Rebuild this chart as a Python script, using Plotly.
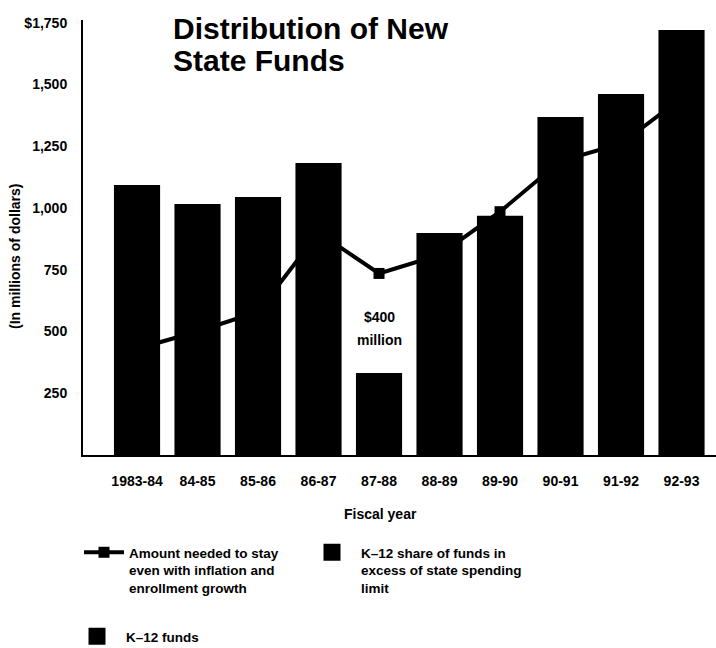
import plotly.graph_objects as go

# ---------------- data ----------------
years = ["1983-84", "84-85", "85-86", "86-87", "87-88",
         "88-89", "89-90", "90-91", "91-92", "92-93"]
k12_funds = [1083, 1006, 1034, 1172, None, 889, 958, 1358, 1451, 1710]
k12_excess_share = [None, None, None, None, 322, None, None, None, None, None]
amount_needed = [430, 500, 580, 900, 735, 810, 985, 1190, 1260, 1445]
y_tick_values = [250, 500, 750, 1000, 1250, 1500, 1750]
y_tick_labels = ["250", "500", "750", "1,000", "1,250", "1,500", "$1,750"]

# ---------------- layout helpers ----------------
FONT = "Liberation Sans, Arial, Helvetica, sans-serif"
W, H = 716, 648
L, R, T, B = 83, 0, 20, 193
PW = W - L - R
PH = H - T - B


def px_x(px):
    return (px - L) / PW


def px_y(py):
    return (H - B - py) / PH


pos = list(range(len(years)))
Y_RANGE = [0, 1761]
X_RANGE = [-0.893, 9.57]

fig = go.Figure()

# line drawn on base subplot (behind the bars)
fig.add_trace(go.Scatter(
    x=pos, y=amount_needed, mode="lines+markers",
    name="Amount needed to stay<br>even with inflation and<br>enrollment growth",
    line=dict(color="black", width=4),
    marker=dict(symbol="square", size=11, color="black"),
    xaxis="x", yaxis="y", legend="legend", hoverinfo="skip",
))

# bars on overlaying subplot so they sit above the line
fig.add_trace(go.Bar(
    x=pos, y=k12_excess_share,
    name="K–12 share of funds in<br>excess of state spending<br>limit",
    marker=dict(color="black", line=dict(color="black", width=5)),
    width=0.68, xaxis="x", yaxis="y2", legend="legend2", hoverinfo="skip",
))
fig.add_trace(go.Bar(
    x=pos, y=k12_funds, name="K–12 funds",
    marker=dict(color="black", line=dict(color="black", width=5)),
    width=0.68, xaxis="x", yaxis="y2", legend="legend3", hoverinfo="skip",
))

legend_font = dict(family=FONT, size=13.5, color="black", weight="bold")
common_legend = dict(xanchor="left", yanchor="top", valign="top",
                     bgcolor="rgba(0,0,0,0)", borderwidth=0,
                     font=legend_font, tracegroupgap=0)

annot_font = dict(family=FONT, color="black", weight="bold")

fig.update_layout(
    width=W, height=H, autosize=False,
    margin=dict(l=L, r=R, t=T, b=B, pad=0, autoexpand=False),
    paper_bgcolor="white", plot_bgcolor="white",
    font=dict(family=FONT, color="black", weight="bold"),
    barmode="overlay",
    showlegend=True,
    xaxis=dict(
        range=X_RANGE, tickmode="array", tickvals=pos, ticktext=years,
        showline=True, linecolor="black", linewidth=2, ticks="",
        showgrid=False, zeroline=False, ticklabelstandoff=12,
        tickfont=dict(family=FONT, size=14, color="black", weight="bold"),
        fixedrange=True,
    ),
    yaxis=dict(
        range=Y_RANGE, tickmode="array", tickvals=y_tick_values,
        ticktext=y_tick_labels, showline=True, linecolor="black",
        linewidth=2, ticks="", showgrid=False, zeroline=False,
        ticklabelstandoff=11,
        tickfont=dict(family=FONT, size=14, color="black", weight="bold"),
        fixedrange=True,
    ),
    yaxis2=dict(range=Y_RANGE, overlaying="y", visible=False,
                fixedrange=True),
    legend=dict(x=px_x(79), y=px_y(537), itemwidth=40, **common_legend),
    legend2=dict(x=px_x(303), y=px_y(537), itemwidth=48, **common_legend),
    legend3=dict(x=px_x(68), y=px_y(621), itemwidth=48, **common_legend),
    annotations=[
        dict(text="Distribution of New", xref="paper", yref="paper",
             x=px_x(171), y=px_y(28), xanchor="left", yanchor="middle",
             showarrow=False, font=dict(size=30, **annot_font)),
        dict(text="State Funds", xref="paper", yref="paper",
             x=px_x(171), y=px_y(60), xanchor="left", yanchor="middle",
             showarrow=False, font=dict(size=30, **annot_font)),
        dict(text="(In millions of dollars)", xref="paper", yref="paper",
             x=px_x(15), y=px_y(257), xanchor="center", yanchor="middle",
             textangle=-90, showarrow=False,
             font=dict(size=14, **annot_font)),
        dict(text="Fiscal year", xref="paper", yref="paper",
             x=px_x(380), y=px_y(514), xanchor="center", yanchor="middle",
             showarrow=False, font=dict(size=14, **annot_font)),
        dict(text="$400", xref="x", yref="paper",
             x=4, y=px_y(317), xanchor="center", yanchor="middle",
             showarrow=False, font=dict(size=14, **annot_font)),
        dict(text="million", xref="x", yref="paper",
             x=4, y=px_y(340), xanchor="center", yanchor="middle",
             showarrow=False, font=dict(size=14, **annot_font)),
    ],
)

fig.write_html("out.html")
